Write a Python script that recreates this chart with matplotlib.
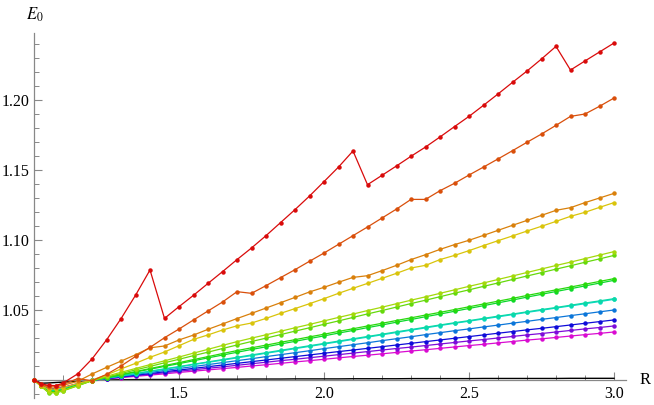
import colorsys
import matplotlib
matplotlib.use("Agg")
import matplotlib.pyplot as plt
from matplotlib.ticker import FixedLocator, FormatStrFormatter

# sample points in R
R = [1.0, 1.025, 1.05, 1.075, 1.1, 1.15, 1.2,
     1.25, 1.3, 1.35, 1.4, 1.45, 1.5, 1.55, 1.6, 1.65, 1.7,
     1.75, 1.8, 1.85, 1.9, 1.95, 2.0, 2.05, 2.1, 2.15, 2.2, 2.25, 2.3, 2.35, 2.4,
     2.45, 2.5, 2.55, 2.6, 2.65, 2.7, 2.75, 2.8, 2.85, 2.9, 2.95, 3.0]

e_red = [1.0, 0.9972, 0.9962, 0.9960, 0.9978, 1.0043, 1.0150,
         1.0286, 1.0438, 1.0605, 1.0786, 1.0440, 1.0524, 1.0605, 1.0690, 1.0774, 1.0860,
         1.0943, 1.1031, 1.1124, 1.1217, 1.1314, 1.1417, 1.1521, 1.1636, 1.1395, 1.1462, 1.1529, 1.1598, 1.1664, 1.1736,
         1.1810, 1.1883, 1.1962, 1.2043, 1.2126, 1.2207, 1.2293, 1.2383, 1.2214, 1.2279, 1.2343, 1.2407]
e_orange_red = [1.0, 0.9968, 0.9958, 0.9958, 0.9968, 1.0010, 0.9995,
                1.0040, 1.0100, 1.0168, 1.0233, 1.0302, 1.0364, 1.0429, 1.0493, 1.0557, 1.0631,
                1.0619, 1.0674, 1.0731, 1.0788, 1.0848, 1.0907, 1.0969, 1.1031, 1.1093, 1.1157, 1.1221, 1.1290, 1.1290, 1.1352,
                1.1405, 1.1464, 1.1521, 1.1579, 1.1638, 1.1698, 1.1757, 1.1819, 1.1883, 1.1900, 1.1955, 1.2014]
e_orange = [1.0, 0.9962, 0.9950, 0.9950, 0.9962, 0.9990, 1.0043,
            1.0090, 1.0135, 1.0180, 1.0230, 1.0243, 1.0286, 1.0321, 1.0362, 1.0400, 1.0439,
            1.0476, 1.0514, 1.0552, 1.0590, 1.0629, 1.0662, 1.0698, 1.0733, 1.0745, 1.0781, 1.0819, 1.0860, 1.0895, 1.0933,
            1.0967, 1.0998, 1.1033, 1.1069, 1.1105, 1.1140, 1.1176, 1.1212, 1.1231, 1.1267, 1.1300, 1.1333]
e_yellow = [1.0, 0.9958, 0.9935, 0.9935, 0.9945, 0.9975, 1.0000,
            1.0036, 1.0079, 1.0119, 1.0162, 1.0200, 1.0245, 1.0290, 1.0322, 1.0357, 1.0387,
            1.0407, 1.0440, 1.0476, 1.0510, 1.0545, 1.0581, 1.0619, 1.0655, 1.0690, 1.0726, 1.0762, 1.0800, 1.0819, 1.0860,
            1.0890, 1.0924, 1.0960, 1.0995, 1.1029, 1.1064, 1.1098, 1.1133, 1.1169, 1.1198, 1.1233, 1.1267]
e_ygreen = [1.0, 0.9955, 0.9912, 0.9910, 0.9925, 0.9960, 0.9995,
            1.0027, 1.0055, 1.0082, 1.0110, 1.0137, 1.0164, 1.0192, 1.0219, 1.0247, 1.0274,
            1.0299, 1.0323, 1.0348, 1.0373, 1.0397, 1.0422, 1.0447, 1.0471, 1.0496, 1.0520, 1.0545, 1.0570, 1.0594, 1.0619,
            1.0644, 1.0669, 1.0693, 1.0718, 1.0743, 1.0768, 1.0793, 1.0818, 1.0842, 1.0867, 1.0892, 1.0917]
e_green1 = [1.0, 0.9955, 0.9910, 0.9908, 0.9922, 0.9958, 0.9995,
            1.0021, 1.0046, 1.0072, 1.0097, 1.0123, 1.0148, 1.0174, 1.0199, 1.0225, 1.0250,
            1.0275, 1.0299, 1.0324, 1.0349, 1.0373, 1.0398, 1.0422, 1.0447, 1.0472, 1.0496, 1.0521, 1.0546, 1.0570, 1.0595,
            1.0620, 1.0644, 1.0669, 1.0693, 1.0718, 1.0743, 1.0767, 1.0792, 1.0816, 1.0841, 1.0865, 1.0890]
e_green2 = [1.0, 0.9955, 0.9915, 0.9915, 0.9928, 0.9962, 0.9996,
            1.0017, 1.0039, 1.0060, 1.0082, 1.0103, 1.0124, 1.0146, 1.0167, 1.0189, 1.0210,
            1.0230, 1.0249, 1.0269, 1.0288, 1.0308, 1.0327, 1.0347, 1.0366, 1.0386, 1.0405, 1.0425, 1.0444, 1.0464, 1.0483,
            1.0503, 1.0523, 1.0543, 1.0563, 1.0583, 1.0604, 1.0624, 1.0644, 1.0664, 1.0684, 1.0704, 1.0724]
e_green3 = [1.0, 0.9955, 0.9918, 0.9918, 0.9930, 0.9964, 0.9996,
            1.0016, 1.0036, 1.0057, 1.0077, 1.0097, 1.0117, 1.0137, 1.0158, 1.0178, 1.0198,
            1.0218, 1.0237, 1.0257, 1.0276, 1.0296, 1.0315, 1.0335, 1.0354, 1.0374, 1.0393, 1.0413, 1.0432, 1.0452, 1.0471,
            1.0491, 1.0511, 1.0531, 1.0551, 1.0571, 1.0592, 1.0612, 1.0632, 1.0652, 1.0672, 1.0692, 1.0712]
e_teal = [1.0, 0.9958, 0.9922, 0.9922, 0.9934, 0.9966, 0.9997,
          1.0014, 1.0030, 1.0047, 1.0063, 1.0080, 1.0096, 1.0113, 1.0129, 1.0146, 1.0162,
          1.0179, 1.0195, 1.0212, 1.0228, 1.0245, 1.0261, 1.0278, 1.0294, 1.0311, 1.0327, 1.0344, 1.0360, 1.0377, 1.0393,
          1.0409, 1.0424, 1.0440, 1.0456, 1.0471, 1.0487, 1.0503, 1.0518, 1.0534, 1.0550, 1.0565, 1.0581]
e_cyan = [1.0, 0.9958, 0.9925, 0.9925, 0.9936, 0.9967, 0.9997,
          1.0013, 1.0029, 1.0045, 1.0061, 1.0077, 1.0093, 1.0110, 1.0126, 1.0142, 1.0158,
          1.0174, 1.0191, 1.0207, 1.0224, 1.0240, 1.0257, 1.0273, 1.0290, 1.0306, 1.0323, 1.0339, 1.0356, 1.0372, 1.0389,
          1.0405, 1.0420, 1.0436, 1.0451, 1.0467, 1.0483, 1.0498, 1.0514, 1.0529, 1.0545, 1.0560, 1.0576]
e_azure = [1.0, 0.9960, 0.9930, 0.9930, 0.9940, 0.9969, 0.9998,
           1.0012, 1.0026, 1.0040, 1.0054, 1.0068, 1.0082, 1.0096, 1.0110, 1.0124, 1.0138,
           1.0152, 1.0167, 1.0181, 1.0195, 1.0209, 1.0224, 1.0238, 1.0252, 1.0266, 1.0281, 1.0295, 1.0309, 1.0324, 1.0338,
           1.0352, 1.0365, 1.0379, 1.0392, 1.0406, 1.0419, 1.0433, 1.0446, 1.0460, 1.0473, 1.0487, 1.0500]
e_blue = [1.0, 0.9962, 0.9934, 0.9934, 0.9943, 0.9971, 0.9998,
          1.0010, 1.0022, 1.0034, 1.0046, 1.0059, 1.0071, 1.0083, 1.0095, 1.0107, 1.0119,
          1.0131, 1.0143, 1.0155, 1.0167, 1.0179, 1.0191, 1.0203, 1.0214, 1.0226, 1.0238, 1.0250, 1.0262, 1.0274, 1.0286,
          1.0298, 1.0310, 1.0322, 1.0334, 1.0346, 1.0358, 1.0369, 1.0381, 1.0393, 1.0405, 1.0417, 1.0429]
e_purple = [1.0, 0.9963, 0.9937, 0.9937, 0.9945, 0.9972, 0.9999,
            1.0010, 1.0020, 1.0031, 1.0041, 1.0052, 1.0063, 1.0073, 1.0084, 1.0094, 1.0105,
            1.0116, 1.0127, 1.0138, 1.0148, 1.0159, 1.0170, 1.0181, 1.0192, 1.0203, 1.0214, 1.0225, 1.0235, 1.0246, 1.0257,
            1.0268, 1.0279, 1.0289, 1.0300, 1.0311, 1.0322, 1.0332, 1.0343, 1.0354, 1.0365, 1.0375, 1.0386]
e_magenta = [1.0, 0.9964, 0.9940, 0.9940, 0.9948, 0.9974, 0.9999,
             1.0008, 1.0017, 1.0026, 1.0035, 1.0044, 1.0054, 1.0063, 1.0072, 1.0081, 1.0090,
             1.0100, 1.0109, 1.0119, 1.0129, 1.0138, 1.0148, 1.0158, 1.0168, 1.0177, 1.0187, 1.0197, 1.0207, 1.0216, 1.0226,
             1.0236, 1.0246, 1.0255, 1.0265, 1.0275, 1.0285, 1.0294, 1.0304, 1.0314, 1.0324, 1.0333, 1.0343]
e_ref = [1.0, 0.9977, 0.9979, 0.9982, 0.9985, 0.9991, 0.9996,
         1.0000, 1.0002, 1.0003, 1.0004, 1.0004, 1.0005, 1.0005, 1.0006, 1.0006, 1.0006,
         1.0007, 1.0007, 1.0007, 1.0008, 1.0008, 1.0008, 1.0008, 1.0009, 1.0009, 1.0009, 1.0009, 1.0010, 1.0010, 1.0010,
         1.0010, 1.0010, 1.0011, 1.0011, 1.0011, 1.0011, 1.0011, 1.0011, 1.0012, 1.0012, 1.0012, 1.0012]

series = [e_red, e_orange_red, e_orange, e_yellow, e_ygreen, e_green1, e_green2,
          e_green3, e_teal, e_cyan, e_azure, e_blue, e_purple, e_magenta]
hues = [0.0, 0.055, 0.095, 0.15, 0.21, 0.26, 0.31, 0.36, 0.46, 0.49, 0.58, 0.67, 0.76, 0.84]

plt.rcParams['font.family'] = ['Liberation Serif', 'DejaVu Serif']
plt.rcParams['mathtext.fontset'] = 'stix'

fig = plt.figure(figsize=(6.54, 4.05), dpi=100)
ax = fig.add_axes([25 / 654, 5 / 405, 607 / 654, 370 / 405])
ax.set_xlim(1 - 9 / 290, 1 + 598 / 290)
ax.set_ylim(1 - 20 / 1400, 1 + 350 / 1400)

ax.plot(R, e_ref, color='black', lw=1.0, zorder=2)
for ys, h in zip(series[::-1], hues[::-1]):
    c = colorsys.hsv_to_rgb(h, 0.95, 0.85)
    ax.plot(R, ys, color=c, lw=0.9, marker='o', ms=2.2, mec=c, mfc=c, zorder=3)

# Mathematica-style crossing axes
for side in ['top', 'right']:
    ax.spines[side].set_visible(False)
ax.spines['left'].set_position(('data', 1.0))
ax.spines['bottom'].set_position(('data', 1.0))
ax.spines['left'].set_bounds(0.987, 1.248)
ax.spines['bottom'].set_bounds(0.995, 3.04)
for side in ['left', 'bottom']:
    ax.spines[side].set_color('#888888')
    ax.spines[side].set_linewidth(0.9)

ax.xaxis.set_major_locator(FixedLocator([1.5, 2.0, 2.5, 3.0]))
ax.xaxis.set_minor_locator(FixedLocator([1.1, 1.2, 1.3, 1.4, 1.6, 1.7, 1.8, 1.9,
                                         2.1, 2.2, 2.3, 2.4, 2.6, 2.7, 2.8, 2.9]))
ax.yaxis.set_major_locator(FixedLocator([1.05, 1.10, 1.15, 1.20]))
ax.yaxis.set_minor_locator(FixedLocator([1.01, 1.02, 1.03, 1.04, 1.06, 1.07, 1.08, 1.09,
                                         1.11, 1.12, 1.13, 1.14, 1.16, 1.17, 1.18, 1.19,
                                         1.21, 1.22, 1.23, 1.24, 0.99]))
ax.xaxis.set_major_formatter(FormatStrFormatter('%.1f'))
ax.yaxis.set_major_formatter(FormatStrFormatter('%.2f'))
ax.tick_params(which='both', direction='in', color='#888888', labelsize=11.5)
ax.tick_params(which='major', length=6, width=0.8)
ax.tick_params(which='minor', length=3.5, width=0.7)
ax.tick_params(axis='x', pad=4)
ax.tick_params(axis='y', pad=3)

fig.text(35 / 654, 1 - 15 / 405, r'$E_0$', fontsize=12, ha='center', va='center')
fig.text(645 / 654, 1 - 380 / 405, 'R', fontsize=12, ha='center', va='center')

fig.savefig('out.png', dpi=100)
